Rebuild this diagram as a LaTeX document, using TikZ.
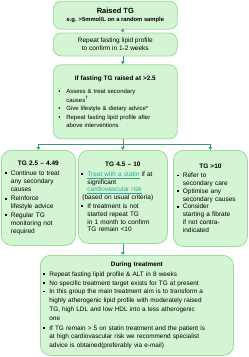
\documentclass[tikz,border=0pt]{standalone}
\usepackage{fontspec}
\setmainfont{Liberation Sans}
\usetikzlibrary{positioning,arrows.meta}
\definecolor{tgfill}{HTML}{D3F5D3}
\definecolor{tgedge}{HTML}{9ADB9A}
\definecolor{tgarrow}{HTML}{3A9A70}
\definecolor{tglinkc}{HTML}{2FA6A0}
\newcommand{\sqb}{\makebox[6pt][l]{\rule[1.4pt]{1.7pt}{1.7pt}}}
\newcommand{\rdb}{\makebox[8pt][l]{\textbullet}}
\newcommand{\tglink}[1]{\textcolor{tglinkc}{\underline{#1}}}
\newcommand{\ttl}[1]{\hbox to\hsize{\hss\bfseries #1\hss}}
\tikzset{
  tgbox/.style={draw=tgedge, fill=tgfill, line width=0.8pt, rounded corners=8pt, inner sep=3pt, font=\fontsize{6.5}{7.8}\selectfont},
  flow/.style={-{Triangle[length=3pt,width=3.5pt]}, draw=tgarrow, line width=0.6pt},
  tgline/.style={draw=tgarrow, line width=0.6pt}
}
\begin{document}
\begin{tikzpicture}[x=1pt, y=1pt, node distance=4pt]
\useasboundingbox (0,0) rectangle (249,-357);
% top chain
\node[tgbox, minimum width=124pt, minimum height=28pt, align=center, anchor=north] (raised) at (115.3,-0.8) {{\fontsize{7.5}{9}\selectfont\bfseries Raised TG}\\{\fontsize{5.8}{7}\selectfont\bfseries e.g. >5mmol/L on a random sample}};
\node[tgbox, minimum width=124pt, minimum height=23pt, align=center, below=3pt of raised] (repeat) {Repeat fasting lipid profile\\to confirm in 1-2 weeks};
\node[tgbox, minimum width=124pt, minimum height=74pt, text width=114pt, align=left, below=8pt of repeat, font=\fontsize{6}{8.5}\selectfont] (fasting) {\ttl{\fontsize{6.4}{8}\selectfont If fasting TG raised at >2.5}\\[5pt]
\rdb Assess \& treat secondary\\
\hspace*{8pt}causes\textsuperscript{†}\\
\rdb Give lifestyle \& dietary advice*\\
\rdb Repeat fasting lipid profile after\\
\hspace*{8pt}above interventions};
% three branches
\node[tgbox, rounded corners=10pt, minimum width=74pt, minimum height=95pt, text width=67pt, align=left, anchor=north west] (low) at (1,-150) {\ttl{TG 2.5 -- 4.49}\\[2pt]
\sqb Continue to treat\\
\hspace*{6pt}any secondary\\
\hspace*{6pt}causes\\[2pt]
\sqb Reinforce\\
\hspace*{6pt}lifestyle advice\\[1pt]
\sqb Regular TG\\
\hspace*{6pt}monitoring not\\
\hspace*{6pt}required};
\node[tgbox, rounded corners=10pt, minimum width=89pt, minimum height=93pt, text width=83pt, align=left, anchor=north west] (mid) at (78,-150) {\ttl{TG 4.5 -- 10}\\[2pt]
\sqb\tglink{Treat with a statin} if at\\
\hspace*{6pt}significant\\
\hspace*{6pt}\tglink{cardiovascular risk}\\
\hspace*{1pt}(based on usual criteria)\\[1pt]
\sqb If treatment is not\\
\hspace*{6pt}started repeat TG\\
\hspace*{6pt}in 1 month to confirm\\
\hspace*{6pt}TG remain <10};
\node[tgbox, rounded corners=10pt, minimum width=74pt, minimum height=96pt, text width=67pt, align=left, anchor=north west] (high) at (173,-150) {\ttl{TG >10}\\[1pt]
\sqb Refer to\\
\hspace*{6pt}secondary care\\
\sqb Optimise any\\
\hspace*{6pt}secondary causes\\
\sqb Consider\\
\hspace*{6pt}starting a fibrate\\
\hspace*{6pt}if not contra-\\
\hspace*{6pt}indicated};
% treatment box
\node[tgbox, rounded corners=10pt, minimum width=193pt, minimum height=100pt, text width=187pt, align=left, anchor=north west, font=\fontsize{6.4}{8.8}\selectfont] (during) at (40,-255) {\ttl{During treatment}\\[1pt]
\sqb Repeat fasting lipid profile \& ALT in 8 weeks\\
\sqb No specific treatment target exists for TG at present\\
\sqb In this group the main treatment aim is to transform a\\
\hspace*{6pt}highly atherogenic lipid profile with moderately raised\\
\hspace*{6pt}TG, high LDL and low HDL into a less atherogenic\\
\hspace*{6pt}one\\[1pt]
\sqb If TG remain > 5 on statin treatment and the patient is\\
\hspace*{6pt}at high cardiovascular risk we recommend specialist\\
\hspace*{6pt}advice is obtained(preferably via e-mail)};
% connectors
\draw[flow] ([xshift=7.5pt]raised.south) -- ([xshift=7.5pt]repeat.north);
\draw[flow] ([xshift=7.5pt]repeat.south) -- ([xshift=7.5pt]fasting.north);
\draw[tgline] ([xshift=7.5pt]fasting.south) -- ++(0,-5) coordinate (split);
\draw[flow] (split) -| (low.north);
\draw[flow] (split) -| (high.north);
\draw[flow] (split) -- (split |- mid.north);
\draw[flow] (mid.south) -- (mid.south |- during.north);
\end{tikzpicture}
\end{document}
